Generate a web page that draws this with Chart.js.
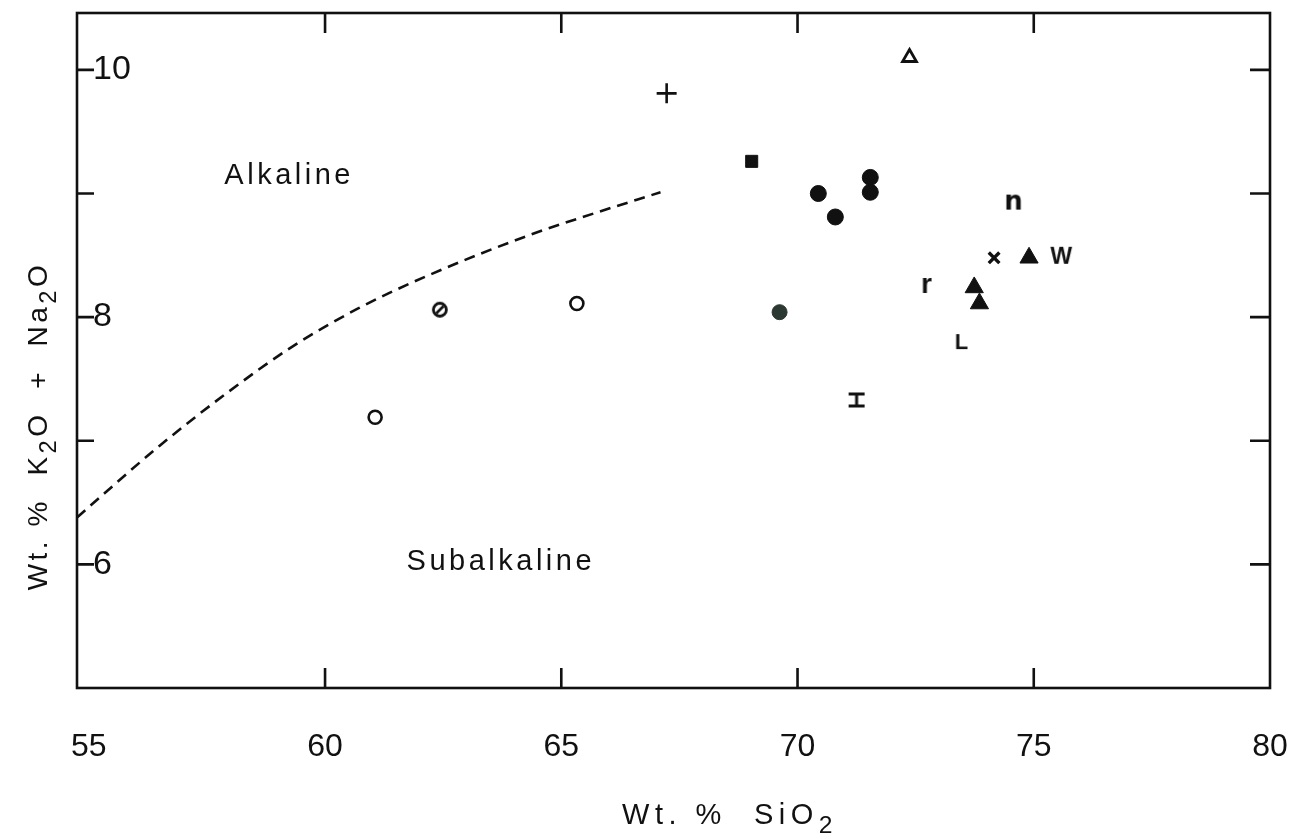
<!DOCTYPE html>
<html>
<head>
<meta charset="utf-8">
<script src="https://cdn.jsdelivr.net/npm/chart.js@4"></script>
<style>
  html, body { margin: 0; padding: 0; background: #fff; }
  canvas { display: block; }
</style>
</head>
<body>
<canvas id="chart" width="1294" height="839"></canvas>
<script>
// Alkaline / subalkaline boundary (dashed)
const boundarySiO2 = [54.75, 56.5, 57.9, 59.3, 60.7, 62.2, 64.3, 65.7, 67.1];
const boundaryAlk  = [6.38, 6.96, 7.38, 7.76, 8.07, 8.34, 8.66, 8.84, 9.01];

// samples, grouped by symbol: [SiO2, K2O + Na2O]
const plusPts       = [[67.23, 9.81]];
const squarePts     = [[69.03, 9.26]];
const dotPts        = [[70.44, 9.00], [70.80, 8.81], [71.54, 9.13], [71.54, 9.01]];
const greyDotPts    = [[69.62, 8.04]];
const openCirclePts = [[65.33, 8.11], [61.06, 7.19]];
const slashedPts    = [[62.43, 8.06]];
const openTriPts    = [[72.37, 10.10]];
const solidTriPts   = [[74.90, 8.48], [73.74, 8.24], [73.85, 8.11]];
const crossPts      = [[74.16, 8.48]];
const nPts          = [[74.57, 8.91]];
const rPts          = [[72.73, 8.26]];
const lPts          = [[73.47, 7.79]];
const wPts          = [[75.58, 8.48]];
const iPts          = [[71.25, 7.33]];

// axis setup
const xMin = 54.75, xMax = 80;
const yMin = 5, yMax = 10.46;
const xTickMarks = [60, 65, 70, 75];
const yTickMarks = [6, 7, 8, 9, 10];
const yLabelled = [6, 8, 10];

const regionLabels = [
    { text: 'Alkaline', x: 59.24, y: 9.14 },
    { text: 'Subalkaline', x: 63.72, y: 6.02 }
];

const INK = '#111111';
const FONT = '"Liberation Sans", Arial, sans-serif';

const toXY = arr => arr.map(p => ({ x: p[0], y: p[1] }));

// small canvas markers for the letter-style symbols
function makeGlyph(text, font, w, h, dy) {
    const c = document.createElement('canvas');
    c.width = w; c.height = h;
    const g = c.getContext('2d');
    g.fillStyle = INK;
    g.font = font;
    g.textAlign = 'center';
    g.textBaseline = 'middle';
    g.fillText(text, w / 2, h / 2 + (dy || 0));
    return c;
}

function makeSlashedCircle() {
    const c = document.createElement('canvas');
    c.width = 20; c.height = 20;
    const g = c.getContext('2d');
    g.strokeStyle = INK;
    g.lineWidth = 2.8;
    g.beginPath();
    g.arc(10, 10, 6.5, 0, Math.PI * 2);
    g.stroke();
    g.lineWidth = 2.6;
    g.beginPath();
    g.moveTo(6.5, 13.5);
    g.lineTo(13.5, 6.5);
    g.stroke();
    return c;
}

function makeIBeam() {
    const c = document.createElement('canvas');
    c.width = 22; c.height = 20;
    const g = c.getContext('2d');
    g.strokeStyle = INK;
    g.lineWidth = 3;
    g.beginPath();
    g.moveTo(3, 4); g.lineTo(19, 4);
    g.moveTo(11, 4); g.lineTo(11, 16);
    g.moveTo(3, 16); g.lineTo(19, 16);
    g.stroke();
    return c;
}

const glyphN = makeGlyph('n', 'bold 26px "DejaVu Sans", sans-serif', 26, 34, -2);
const glyphR = makeGlyph('r', 'bold 28px ' + FONT, 22, 34, 0);
const glyphL = makeGlyph('L', 'bold 22px ' + FONT, 22, 30, 0);
const glyphW = makeGlyph('W', 'bold 23px ' + FONT, 30, 30, 0);
const glyphSlash = makeSlashedCircle();
const glyphI = makeIBeam();

function markerSet(data, style, extra) {
    return Object.assign({
        data: toXY(data),
        pointStyle: style,
        pointRadius: 8,
        pointBackgroundColor: INK,
        pointBorderColor: INK,
        pointBorderWidth: 1,
        showLine: false
    }, extra || {});
}

// frame with inward ticks on all four sides
const framePlugin = {
    id: 'frame',
    afterDraw(chart) {
        const { ctx, chartArea: a, scales } = chart;
        const len = 20;
        ctx.save();
        ctx.strokeStyle = INK;
        ctx.lineWidth = 2.6;
        ctx.strokeRect(a.left, a.top, a.right - a.left, a.bottom - a.top);
        ctx.beginPath();
        xTickMarks.forEach(v => {
            const px = scales.x.getPixelForValue(v);
            ctx.moveTo(px, a.bottom); ctx.lineTo(px, a.bottom - len);
            ctx.moveTo(px, a.top); ctx.lineTo(px, a.top + len);
        });
        yTickMarks.forEach(v => {
            const py = scales.y.getPixelForValue(v);
            ctx.moveTo(a.left, py); ctx.lineTo(a.left + len - 3, py);
            ctx.moveTo(a.right, py); ctx.lineTo(a.right - len, py);
        });
        ctx.stroke();
        ctx.restore();
    }
};

// text with subscripts, centred on (cx, baseline)
function drawRich(ctx, parts, cx, baseline, size, spacing) {
    const widths = parts.map(p => {
        ctx.font = (p.sub ? size * 0.85 : size) + 'px ' + FONT;
        ctx.letterSpacing = spacing + 'px';
        return ctx.measureText(p.t).width;
    });
    const total = widths.reduce((s, w) => s + w, 0);
    let x = cx - total / 2;
    parts.forEach((p, i) => {
        ctx.font = (p.sub ? size * 0.85 : size) + 'px ' + FONT;
        ctx.letterSpacing = spacing + 'px';
        ctx.fillText(p.t, x, baseline + (p.sub ? size * 0.32 : 0));
        x += widths[i];
    });
}

const textPlugin = {
    id: 'texts',
    afterDraw(chart) {
        const { ctx, scales } = chart;
        ctx.save();
        ctx.fillStyle = INK;
        ctx.textAlign = 'center';
        ctx.textBaseline = 'middle';
        ctx.font = '29px ' + FONT;
        ctx.letterSpacing = '3.5px';
        regionLabels.forEach(l => {
            ctx.fillText(l.text, scales.x.getPixelForValue(l.x), scales.y.getPixelForValue(l.y));
        });

        ctx.textAlign = 'left';
        ctx.textBaseline = 'alphabetic';
        drawRich(ctx, [
            { t: 'Wt. %  SiO' }, { t: '2', sub: true }
        ], 730, 824, 29, 5.5);

        ctx.translate(37, 426);
        ctx.rotate(-Math.PI / 2);
        drawRich(ctx, [
            { t: 'Wt. %  K' }, { t: '2', sub: true }, { t: 'O  +  Na' }, { t: '2', sub: true }, { t: 'O' }
        ], 0, 10, 28, 3.5);
        ctx.restore();
    }
};

new Chart(document.getElementById('chart'), {
    type: 'scatter',
    data: {
        datasets: [
            {
                data: boundarySiO2.map((x, i) => ({ x: x, y: boundaryAlk[i] })),
                showLine: true,
                borderColor: INK,
                borderWidth: 2.6,
                borderDash: [11, 7],
                cubicInterpolationMode: 'monotone',
                pointRadius: 0,
                fill: false
            },
            markerSet(plusPts, 'cross', { pointRadius: 10, pointBorderWidth: 2.6 }),
            markerSet(squarePts, 'rect', { pointRadius: 8.5 }),
            markerSet(dotPts, 'circle', { pointRadius: 8 }),
            markerSet(greyDotPts, 'circle', { pointRadius: 7.5, pointBackgroundColor: '#2c3832', pointBorderColor: '#2c3832' }),
            markerSet(openCirclePts, 'circle', { pointRadius: 6.5, pointBackgroundColor: '#ffffff', pointBorderWidth: 2.6 }),
            markerSet(slashedPts, glyphSlash),
            markerSet(openTriPts, 'triangle', { pointRadius: 8, pointBackgroundColor: '#ffffff', pointBorderWidth: 2.8 }),
            markerSet(solidTriPts, 'triangle', { pointRadius: 10.5 }),
            markerSet(crossPts, 'crossRot', { pointRadius: 7.5, pointBorderWidth: 3.4 }),
            markerSet(nPts, glyphN),
            markerSet(rPts, glyphR),
            markerSet(lPts, glyphL),
            markerSet(wPts, glyphW),
            markerSet(iPts, glyphI)
        ]
    },
    options: {
        responsive: false,
        animation: false,
        layout: { padding: { top: 13, right: 24, left: 0, bottom: 0 } },
        plugins: {
            legend: { display: false },
            tooltip: { enabled: false }
        },
        scales: {
            x: {
                type: 'linear',
                min: xMin,
                max: xMax,
                grid: { display: false, drawTicks: false },
                border: { display: false },
                ticks: {
                    stepSize: 5,
                    includeBounds: false,
                    padding: 40,
                    maxRotation: 0,
                    color: INK,
                    font: { family: FONT, size: 32 }
                },
                afterFit: scale => {
                    scale.height = 151;
                    scale.paddingLeft = 0;
                    scale.paddingRight = 0;
                }
            },
            y: {
                type: 'linear',
                min: yMin,
                max: yMax,
                grid: { display: false, drawTicks: false },
                border: { display: false },
                ticks: {
                    stepSize: 1,
                    includeBounds: false,
                    mirror: true,
                    padding: 16,
                    color: INK,
                    font: { family: FONT, size: 34 },
                    callback: v => yLabelled.includes(v) ? String(v) : ''
                },
                afterFit: scale => {
                    scale.width = 77;
                    scale.paddingTop = 0;
                    scale.paddingBottom = 0;
                }
            }
        }
    },
    plugins: [framePlugin, textPlugin]
});
</script>
</body>
</html>
